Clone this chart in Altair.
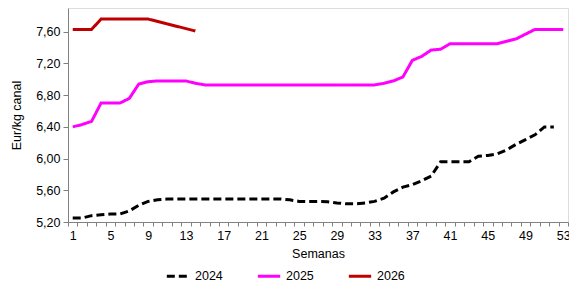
import altair as alt
import pandas as pd

weeks = list(range(1, 54))

y2024 = [5.25, 5.25, 5.28, 5.29, 5.30, 5.30, 5.34, 5.41, 5.46, 5.48,
         5.49, 5.49, 5.49, 5.49, 5.49, 5.49, 5.49, 5.49, 5.49, 5.49,
         5.49, 5.49, 5.49, 5.48, 5.46, 5.46, 5.46, 5.455, 5.44, 5.43,
         5.43, 5.44, 5.46, 5.50, 5.58, 5.64, 5.67, 5.72, 5.78, 5.96,
         5.96, 5.96, 5.96, 6.03, 6.04, 6.06, 6.11, 6.18, 6.24, 6.30,
         6.40, 6.40]
y2025 = [6.40, 6.43, 6.47, 6.70, 6.70, 6.70, 6.76, 6.94, 6.97, 6.98,
         6.98, 6.98, 6.98, 6.95, 6.93, 6.93, 6.93, 6.93, 6.93, 6.93,
         6.93, 6.93, 6.93, 6.93, 6.93, 6.93, 6.93, 6.93, 6.93, 6.93,
         6.93, 6.93, 6.93, 6.95, 6.98, 7.03, 7.24, 7.29, 7.37, 7.38,
         7.45, 7.45, 7.45, 7.45, 7.45, 7.45, 7.48, 7.51, 7.57, 7.63,
         7.63, 7.63, 7.63]
y2026 = [7.63, 7.63, 7.63, 7.76, 7.76, 7.76, 7.76, 7.76, 7.76, 7.73,
         7.70, 7.67, 7.64, 7.61]

series = {"2024": y2024, "2025": y2025, "2026": y2026}
rows = []
for name, vals in series.items():
    for w, v in zip(weeks, vals):
        rows.append({"Semana": w, "Valor": v, "Año": name})
df = pd.DataFrame(rows)

y_ticks = [5.2, 5.6, 6.0, 6.4, 6.8, 7.2, 7.6]
x_labels = list(range(1, 54, 4))
x_minor = [i + 0.5 for i in range(0, 54)]

font = "Liberation Sans"
xscale = alt.Scale(domain=[0.5, 53.5], nice=False, zero=False)
yscale = alt.Scale(domain=[5.2, 7.9], nice=False, zero=False)

lines = alt.Chart(df).mark_line(strokeWidth=3).encode(
    x=alt.X("Semana:Q", scale=xscale,
            axis=alt.Axis(orient="bottom", values=x_labels, title="Semanas", grid=False,
                          ticks=False, domain=False, labelFontSize=12.5,
                          titleFontSize=12.5, titleFontWeight="normal",
                          labelColor="#000", titleColor="#000",
                          labelPadding=7, titlePadding=6, labelFlush=False)),
    y=alt.Y("Valor:Q", scale=yscale,
            axis=alt.Axis(values=y_ticks, title="Eur/kg canal", grid=False,
                          labelExpr="replace(format(datum.value, '.2f'), '.', ',')",
                          labelFontSize=12.5, titleFontSize=12.5,
                          titleFontWeight="normal", labelColor="#000",
                          titleColor="#000", domainColor="#808080",
                          tickColor="#808080", tickSize=5, labelPadding=3,
                          titlePadding=12)),
    color=alt.Color("Año:N",
                    scale=alt.Scale(domain=["2024", "2025", "2026"],
                                    range=["#000000", "#FF00FF", "#C00000"]),
                    legend=alt.Legend(title=None, orient="none", direction="horizontal",
                                      legendX=97, legendY=255, symbolType="stroke",
                                      symbolSize=500, symbolStrokeWidth=3,
                                      labelFontSize=12.5, labelColor="#000",
                                      columnPadding=28, labelFont=font)),
    strokeDash=alt.StrokeDash("Año:N",
                              scale=alt.Scale(domain=["2024", "2025", "2026"],
                                              range=[[8, 4], [1, 0], [1, 0]]),
                              legend=None),
)

minor = alt.Chart(pd.DataFrame({"t": x_minor})).mark_tick(opacity=0).encode(
    x=alt.X("t:Q", scale=xscale,
            axis=alt.Axis(orient="bottom", values=x_minor, labels=False, title=None,
                          grid=False, tickColor="#808080", tickSize=4,
                          domainColor="#808080", ticks=True, domain=True)),
)

chart = alt.layer(minor, lines).resolve_axis(x="independent").properties(
    width=500, height=214,
    autosize=alt.AutoSizeParams(type="none"),
    padding={"left": 60, "top": 0, "right": 1, "bottom": 65},
).configure_view(stroke="#404040", strokeWidth=1.5).configure(
    font=font
)

chart.save("out.html", embed_options={"renderer": "svg", "actions": False})
